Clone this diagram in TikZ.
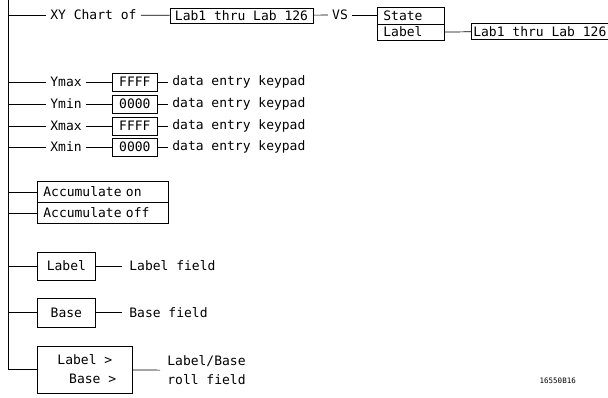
\documentclass[tikz,border=0pt]{standalone}
\usepackage{fontspec}
\newfontfamily\plotfont{DejaVu Sans Mono}
\usetikzlibrary{positioning}

\begin{document}
\begin{tikzpicture}[x=1pt,y=-1pt,line width=0.7pt,
  txt/.style={inner sep=4pt,font=\plotfont\fontsize{13}{15}\selectfont},
  fld/.style={txt,inner xsep=7pt,anchor=west},
  box/.style={txt,draw,inner sep=0pt},
  lbox/.style={box,align=left,inner xsep=6pt}]
\useasboundingbox (0,0) rectangle (608,397);
\coordinate (top) at (8,0);
% XY chart line
\node[txt,anchor=west] (xy) at (46,15) {XY Chart of};
\node[box,minimum width=143pt,minimum height=15pt] (lab) at (241.5,15.5) {Lab1 thru Lab 126};
\node[txt] (vs) at (340,15) {VS};
\node[lbox,text width=55pt,minimum height=16.5pt,anchor=north west] (state) at (377,7) {State};
\node[lbox,text width=55pt,minimum height=16.5pt,anchor=north west] (lbl) at (377,23.5) {Label};
\node[box,minimum width=137pt,minimum height=16pt,anchor=west] (labb) at (471,31.75) {Lab1 thru Lab 126};
\draw (top |- xy.west) -- (xy.west);
\draw (xy) -- (lab);
\draw (lab) -- (vs);
\draw (vs) -- (vs -| state.west);
\draw (lbl.east) -- (labb.west);
% limits
\node[txt,anchor=west] (ymax) at (46,82) {Ymax};
\node[box,minimum width=45pt,minimum height=18pt,anchor=west] (ymaxv) at (112,82) {FFFF};
\node[txt,anchor=west] (ymaxk) at (168,82) {data entry keypad};
\node[txt,anchor=west] (ymin) at (46,104) {Ymin};
\node[box,minimum width=45pt,minimum height=18pt,anchor=west] (yminv) at (112,104) {0000};
\node[txt,anchor=west] (ymink) at (168,104) {data entry keypad};
\node[txt,anchor=west] (xmax) at (46,126) {Xmax};
\node[box,minimum width=45pt,minimum height=18pt,anchor=west] (xmaxv) at (112,126) {FFFF};
\node[txt,anchor=west] (xmaxk) at (168,126) {data entry keypad};
\node[txt,anchor=west] (xmin) at (46,147) {Xmin};
\node[box,minimum width=45pt,minimum height=18pt,anchor=west] (xminv) at (112,147) {0000};
\node[txt,anchor=west] (xmink) at (168,147) {data entry keypad};
\draw (top |- ymax.west) -- (ymax.west);
\draw (ymax) -- (ymaxv);
\draw (ymaxv) -- (ymaxk);
\draw (top |- ymin.west) -- (ymin.west);
\draw (ymin) -- (yminv);
\draw (yminv) -- (ymink);
\draw (top |- xmax.west) -- (xmax.west);
\draw (xmax) -- (xmaxv);
\draw (xmaxv) -- (xmaxk);
\draw (top |- xmin.west) -- (xmin.west);
\draw (xmin) -- (xminv);
\draw (xminv) -- (xmink);
% accumulate
\node[lbox,text width=119pt,minimum height=21pt,anchor=north west] (accon) at (37,181) {Accumulate on};
\node[lbox,text width=119pt,minimum height=21pt,anchor=north west] (accoff) at (37,202) {Accumulate off};
\draw (top |- accon.west) -- (accon.west);
\draw (top |- accoff.west) -- (accoff.west);
% label and base
\node[box,minimum width=58pt,minimum height=28pt,anchor=west] (label) at (37,266) {Label};
\node[fld] (labelf) at (122,266) {Label field};
\node[box,minimum width=58pt,minimum height=29pt,anchor=west] (base) at (37,312.5) {Base};
\node[fld] (basef) at (122,312.5) {Base field};
\node[box,align=center,font=\plotfont\fontsize{13}{19}\selectfont,minimum width=95pt,minimum height=47pt,anchor=west] (roll) at (37,369.5) {Label >\\\ \ Base >};
\node[fld,align=left,font=\plotfont\fontsize{13}{19}\selectfont] (rollf) at (160,370.5) {Label/Base\\roll field};
\draw (top |- label.west) -- (label.west);
\draw (label) -- (labelf);
\draw (top |- base.west) -- (base.west);
\draw (base) -- (basef);
\draw (top) |- (roll.west);
\draw (roll) -- (rollf);
\node[anchor=west,font=\plotfont\fontsize{7.5}{9}\selectfont] (figid) at (536,381) {16550B16};
\end{tikzpicture}
\end{document}
